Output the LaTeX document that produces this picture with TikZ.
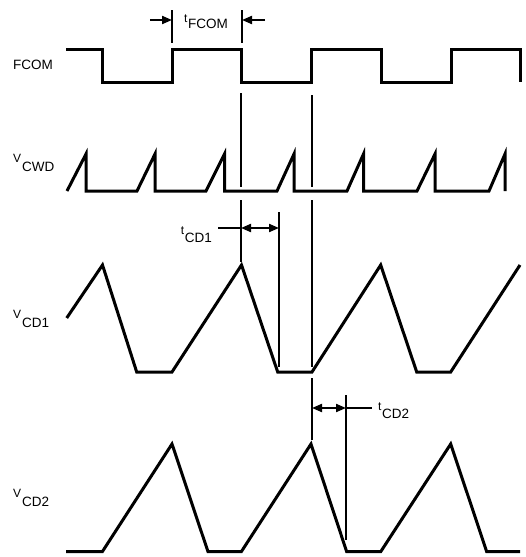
\documentclass[tikz,border=0pt]{standalone}
\usepackage{fontspec}
\setmainfont{Liberation Sans}
\usetikzlibrary{arrows.meta}
\newcommand{\siglbl}[4]{{\fontsize{12}{14}\selectfont #1}\kern#3\raisebox{#4}{\fontsize{13.5}{16}\selectfont #2}}
\begin{document}
\begin{tikzpicture}[x=1pt,y=-1pt,
  wave/.style={line width=3pt},
  guide/.style={line width=2pt},
  dimarrow/.style={line width=2pt,-{Triangle[length=10pt,width=8pt]}},
  ddimarrow/.style={line width=2pt,{Triangle[length=10pt,width=8pt]}-{Triangle[length=10pt,width=8pt]}},
  lbl/.style={inner sep=0pt,anchor=base west}]
\useasboundingbox (0,0) rectangle (526,557);

% signal labels
\node[lbl] (lfcom) at (13,69) {\fontsize{13.5}{16}\selectfont FCOM};
\node[lbl] (lcwd) at (13,162) {\siglbl{V}{CWD}{1pt}{-9pt}};
\node[lbl] (lcd1) at (13,318) {\siglbl{V}{CD1}{1pt}{-9pt}};
\node[lbl] (lcd2) at (13,497) {\siglbl{V}{CD2}{1pt}{-9pt}};

% FCOM
\draw[wave] (66,49) -- (102.5,49) -- (102.5,82) -- (172,82) -- (172,49) -- (241.5,49) -- (241.5,82)
  -- (311,82) -- (311,49) -- (381,49) -- (381,82) -- (451,82) -- (451,49) -- (520,49) -- (520,82);

% VCWD
\draw[wave] (67,191) -- (86,154) -- (86,191) -- (137,191) -- (155,154) -- (155,191) -- (206,191)
  -- (224.5,154) -- (224.5,191) -- (277,191) -- (294,154) -- (294,191) -- (347,191) -- (363.5,154)
  -- (363.5,191) -- (417,191) -- (435,154) -- (435,191) -- (489,191) -- (505,154) -- (505,191);

% VCD1
\draw[wave] (66.7,318) -- (102.5,265) -- (136.7,372) -- (172,372) -- (241.5,265) -- (277.7,372)
  -- (312,372) -- (380.7,265) -- (416.7,372) -- (450.7,372) -- (520,265);

% VCD2
\draw[wave] (66,551.7) -- (102.3,551.7) -- (172,444) -- (208,551.7) -- (241.3,551.7) -- (311,444)
  -- (346.7,551.7) -- (380.7,551.7) -- (450.7,444) -- (486.7,551.7) -- (520,551.7);

% tFCOM
\coordinate (fa) at (172,10); \coordinate (fb) at (172,43);
\coordinate (fc) at (242,10); \coordinate (fd) at (242,43);
\draw[guide] (fa) -- (fb);
\draw[guide] (fc) -- (fd);
\coordinate (fl) at (150,20); \coordinate (fr) at (265,20);
\draw[dimarrow] (fl) -- (fa |- fl);
\draw[dimarrow] (fr) -- (fc |- fr);
\node[lbl] (ltfcom) at (184,22) {\siglbl{t}{FCOM}{0.5pt}{-6pt}};

% guide lines
\coordinate (g1a) at (241,93); \coordinate (g1b) at (241,187);
\coordinate (g2a) at (312,95); \coordinate (g2b) at (312,187);
\draw[guide] (g1a) -- (g1b);
\draw[guide] (g2a) -- (g2b);
\coordinate (g3a) at (241,200); \coordinate (g3b) at (241,262);
\coordinate (g4a) at (279,212); \coordinate (g4b) at (279,367);
\coordinate (g5a) at (312,200); \coordinate (g5b) at (312,367);
\draw[guide] (g3a) -- (g3b);
\draw[guide] (g4a) -- (g4b);
\draw[guide] (g5a) -- (g5b);
\coordinate (g6a) at (312,378); \coordinate (g6b) at (312,440);
\coordinate (g7a) at (346,395); \coordinate (g7b) at (346,540);
\draw[guide] (g6a) -- (g6b);
\draw[guide] (g7a) -- (g7b);

% tCD1
\node[inner sep=0pt,anchor=base east] (ltcd1) at (212,234) {\siglbl{t}{CD1}{0.5pt}{-8pt}};
\coordinate (c1l) at (218,228);
\draw[guide] (c1l) -- (g3a |- c1l);
\draw[ddimarrow] (g3a |- c1l) -- (g4a |- c1l);

% tCD2
\coordinate (c2r) at (372,408);
\draw[ddimarrow] (g6a |- c2r) -- (g7a |- c2r);
\draw[guide] (g7a |- c2r) -- (c2r);
\node[lbl] (ltcd2) at (378,410) {\siglbl{t}{CD2}{0.5pt}{-8pt}};
\end{tikzpicture}
\end{document}
